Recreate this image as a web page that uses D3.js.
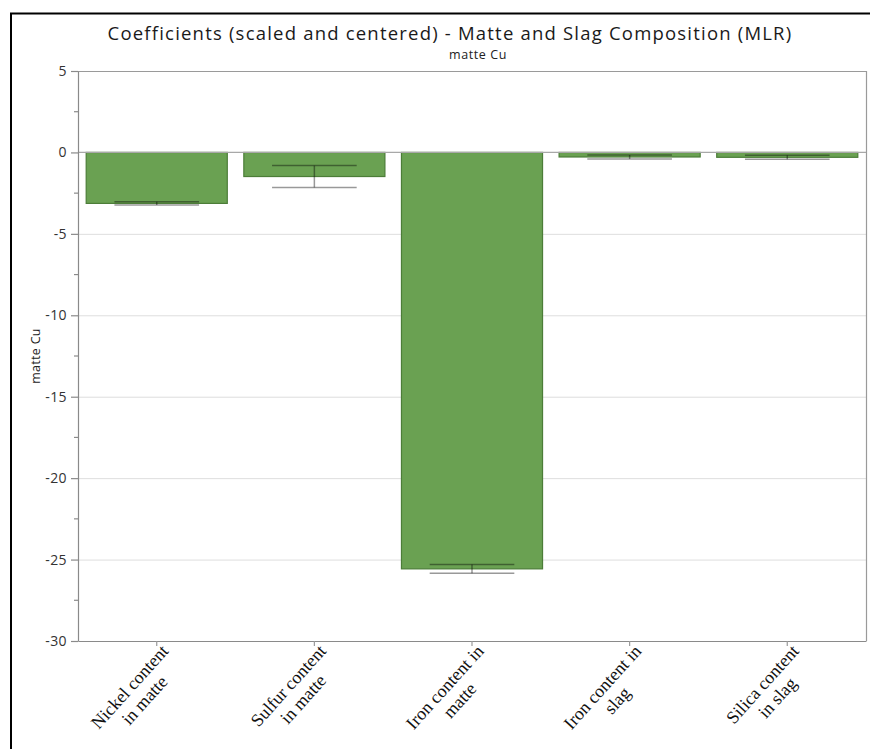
<!DOCTYPE html>
<html>
<head>
<meta charset="utf-8">
<script src="https://cdn.jsdelivr.net/npm/d3@7/dist/d3.min.js"></script>
<style>
  html, body { margin: 0; padding: 0; background: #fff; }
  svg { display: block; }
</style>
</head>
<body>
<svg id="chart" width="870" height="749"></svg>
<script>
// Regression coefficients (scaled and centered) for matte Cu
const categories = [
  "Nickel content in matte",
  "Sulfur content in matte",
  "Iron content in matte",
  "Iron content in slag",
  "Silica content in slag"
];
const labelLines = [
  ["Nickel content", "in matte"],
  ["Sulfur content", "in matte"],
  ["Iron content in", "matte"],
  ["Iron content in", "slag"],
  ["Silica content", "in slag"]
];
const coefficients = [-3.13, -1.48, -25.57, -0.28, -0.30];
const errors = [0.10, 0.67, 0.27, 0.12, 0.12];
const yTicks = [5, 0, -5, -10, -15, -20, -25, -30];
const yMinorTicks = [2.5, -2.5, -7.5, -12.5, -17.5, -22.5, -27.5];
const gridTicks = [-5, -10, -15, -20, -25];

const svg = d3.select("#chart");
const margin = { left: 78, right: 866, top: 71, bottom: 641 };
const uiFont = "'Open Sans', 'Noto Sans', sans-serif";

// outer black frame
svg.append("rect")
  .attr("x", 11).attr("y", 13.5)
  .attr("width", 880).attr("height", 760)
  .attr("fill", "none").attr("stroke", "#000").attr("stroke-width", 2);

const x = d3.scaleBand()
  .domain(categories)
  .range([margin.left, margin.right])
  .paddingInner(0.105)
  .paddingOuter(0.052);

const y = d3.scaleLinear().domain([-30, 5]).range([margin.bottom, margin.top]);

// titles
svg.append("text")
  .attr("x", 450).attr("y", 40)
  .attr("text-anchor", "middle")
  .attr("font-family", uiFont).attr("font-size", 18.5).attr("letter-spacing", 1.2)
  .attr("fill", "#1a1a1a")
  .text("Coefficients (scaled and centered) - Matte and Slag Composition (MLR)");
svg.append("text")
  .attr("x", 478).attr("y", 58.5)
  .attr("text-anchor", "middle")
  .attr("font-family", uiFont).attr("font-size", 12.5).attr("letter-spacing", 0.6)
  .attr("fill", "#222")
  .text("matte Cu");

// y axis label
svg.append("text")
  .attr("transform", `translate(40,${(margin.top + margin.bottom) / 2}) rotate(-90)`)
  .attr("text-anchor", "middle")
  .attr("font-family", uiFont).attr("font-size", 12.5).attr("letter-spacing", 0.3)
  .attr("fill", "#222")
  .text("matte Cu");

// horizontal grid lines
svg.append("g").selectAll("line").data(gridTicks).join("line")
  .attr("x1", margin.left).attr("x2", margin.right)
  .attr("y1", d => y(d) + 0.5).attr("y2", d => y(d) + 0.5)
  .attr("stroke", "#dedede").attr("stroke-width", 1);

// plot frame (top and right)
svg.append("path")
  .attr("d", `M${margin.left},${margin.top + 0.5}H${margin.right + 0.5}V${margin.bottom}`)
  .attr("fill", "none").attr("stroke", "#9a9a9a").attr("stroke-width", 1.2);

// bars
svg.append("g").selectAll("rect").data(coefficients).join("rect")
  .attr("x", (d, i) => x(categories[i]))
  .attr("width", x.bandwidth())
  .attr("y", d => y(Math.max(0, d)))
  .attr("height", d => Math.abs(y(d) - y(0)))
  .attr("fill", "#6aa152")
  .attr("stroke", "#4c7d38").attr("stroke-width", 1.2);

// zero line
svg.append("line")
  .attr("x1", margin.left).attr("x2", margin.right)
  .attr("y1", y(0)).attr("y2", y(0))
  .attr("stroke", "#a8a8a8").attr("stroke-width", 1.2);

// error bars
const capW = x.bandwidth() * 0.6;
const eb = svg.append("g").attr("stroke", "#000").attr("stroke-opacity", 0.4).attr("stroke-width", 1.5);
coefficients.forEach((v, i) => {
  const cx = x(categories[i]) + x.bandwidth() / 2;
  const hi = y(v + errors[i]), lo = y(v - errors[i]);
  eb.append("line").attr("x1", cx).attr("x2", cx).attr("y1", hi).attr("y2", lo);
  eb.append("line").attr("x1", cx - capW / 2).attr("x2", cx + capW / 2).attr("y1", hi).attr("y2", hi);
  eb.append("line").attr("x1", cx - capW / 2).attr("x2", cx + capW / 2).attr("y1", lo).attr("y2", lo);
});

// y axis
const yAxis = svg.append("g")
  .attr("transform", `translate(${margin.left},0)`)
  .call(d3.axisLeft(y).tickValues(yTicks).tickSize(7).tickSizeOuter(0).tickPadding(4).tickFormat(d => String(d)));
yAxis.select(".domain").attr("stroke", "#8a8a8a").attr("stroke-width", 1.2);
yAxis.selectAll(".tick line").attr("stroke", "#8a8a8a").attr("stroke-width", 1.2);
yAxis.selectAll(".tick text")
  .attr("font-family", uiFont).attr("font-size", 14).attr("letter-spacing", 0.4).attr("fill", "#333");
svg.append("g").selectAll("line").data(yMinorTicks).join("line")
  .attr("x1", margin.left - 4).attr("x2", margin.left)
  .attr("y1", d => y(d)).attr("y2", d => y(d))
  .attr("stroke", "#8a8a8a").attr("stroke-width", 1.2);

// x axis
const xAxis = svg.append("g")
  .attr("transform", `translate(0,${margin.bottom})`)
  .call(d3.axisBottom(x).tickSize(5).tickSizeOuter(0).tickFormat(""));
xAxis.select(".domain").attr("stroke", "#8a8a8a").attr("stroke-width", 1.2);
xAxis.selectAll(".tick line").attr("stroke", "#9a9a9a").attr("stroke-width", 1.2);

// rotated category labels, lines centred on each other, block ending at the tick
const serif = "'Liberation Serif', 'Times New Roman', serif";
categories.forEach((c, i) => {
  const cx = x(c) + x.bandwidth() / 2;
  const g = svg.append("g")
    .attr("transform", `translate(${cx + 3},${margin.bottom + 2}) rotate(-48)`);
  const t = g.append("text")
    .attr("font-family", serif).attr("font-size", 18).attr("fill", "#111")
    .attr("text-anchor", "middle");
  const spans = labelLines[i].map((line, k) =>
    t.append("tspan").attr("y", 13 + k * 20).text(line));
  const maxW = d3.max(spans, s => s.node().getComputedTextLength());
  spans.forEach(s => s.attr("x", -maxW / 2));
});
</script>
</body>
</html>
